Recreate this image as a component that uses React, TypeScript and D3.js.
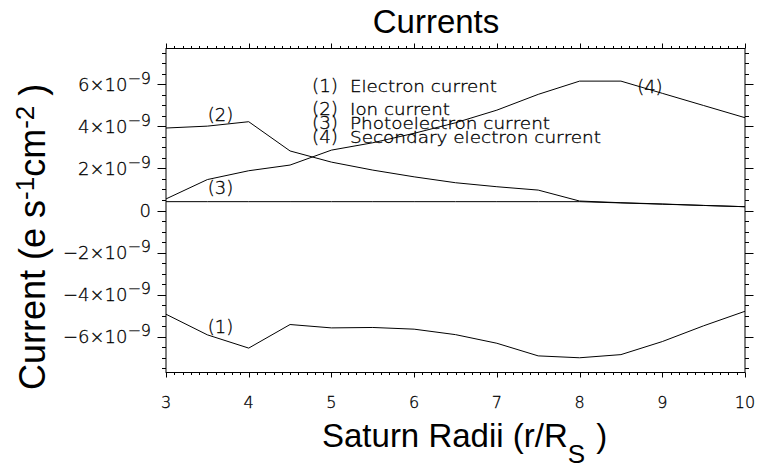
import React from "react";
import * as d3 from "d3";

// distance from Saturn (R_S) and currents in units of 1e-9 e s^-1 cm^-2
const radii = [3, 3.5, 4, 4.5, 5, 5.5, 6, 6.5, 7, 7.5, 8, 8.5, 9, 9.5, 10];
const electron = [-4.93, -5.91, -6.54, -5.42, -5.58, -5.56, -5.64, -5.9, -6.31, -6.91, -7.0, -6.85, -6.23, -5.48, -4.79];
const ion = [3.92, 4.01, 4.22, 2.83, 2.3, 1.92, 1.6, 1.32, 1.13, 0.97, 0.45, 0.37, 0.31, 0.24, 0.18];
const photo = [0.42, 0.42, 0.42, 0.42, 0.42, 0.42, 0.42, 0.42, 0.42, 0.42, 0.42, 0.36, 0.3, 0.24, 0.18];
const secondary = [0.55, 1.47, 1.89, 2.16, 2.87, 3.22, 3.67, 4.17, 4.77, 5.52, 6.15, 6.15, 5.57, 4.99, 4.41];

const legendNames = ["Electron current", "Ion current", "Photoelectron current", "Secondary electron current"];
const xTicks = [3, 4, 5, 6, 7, 8, 9, 10];
const yTicks = [-6, -4, -2, 0, 2, 4, 6];
const UNIT = 1e-9;

const W = 757;
const H = 472;
const hershey = "'DejaVu Sans', sans-serif";
const arial = "'Liberation Sans', Arial, sans-serif";

const x = d3.scaleLinear().domain([3, 10]).range([166, 745]);
const y = d3.scaleLinear().domain([-7.7 * UNIT, 7.7 * UNIT]).range([372.5, 48.5]);

const line = d3
  .line<number>()
  .x((_, i) => x(radii[i]))
  .y((d) => y(d * UNIT));

// where the "(n)" tags sit next to their curves (data coords)
const tags = [
  { t: "(1)", r: 3.66, v: -5.82 },
  { t: "(2)", r: 3.66, v: 4.25 },
  { t: "(3)", r: 3.66, v: 0.78 },
  { t: "(4)", r: 8.85, v: 5.58 },
];
const legendY = [91.7, 115, 129.3, 143.3];
const legendLen = [147, 100, 200, 251];

const minorX = d3.range(30, 101).map((i) => i / 10);
const minorY = d3.range(-15, 16).map((i) => i * 0.5);

// thin stroked look of the plotting package's vector font
const thin = { fontFamily: hershey, fontWeight: 200, stroke: "#000", strokeWidth: 0.3 };

const App = () => {
  const [x0, x1] = x.range();
  const [y0, y1] = [y(-7.7 * UNIT), y(7.7 * UNIT)];
  return (
    <svg
      width={W}
      height={H}
      style={{ position: "absolute", left: 0, top: 0, background: "#fff" }}
    >
      <rect x={0} y={0} width={W} height={H} fill="#fff" />
      {/* frame */}
      <rect x={x0} y={y1} width={x1 - x0} height={y0 - y1} fill="none" stroke="#000" strokeWidth={1} />

      {/* x ticks, top and bottom, outward */}
      {minorX.map((v) => {
        const major = Math.abs(v - Math.round(v)) < 1e-6;
        const len = major ? 5 : 2.5;
        const px = Math.round(x(v)) + 0.5;
        return (
          <g key={"xt" + v} stroke="#000" strokeWidth={1}>
            <line x1={px} x2={px} y1={y0} y2={y0 + len} />
            <line x1={px} x2={px} y1={y1} y2={y1 - len} />
          </g>
        );
      })}
      {/* y ticks, left and right, outward */}
      {minorY.map((v) => {
        const major = v % 2 === 0;
        const len = major ? 8.5 : 4;
        const py = Math.round(y(v * UNIT)) + 0.5;
        return (
          <g key={"yt" + v} stroke="#000" strokeWidth={1}>
            <line x1={x0} x2={x0 - len} y1={py} y2={py} />
            <line x1={x1} x2={x1 + len} y1={py} y2={py} />
          </g>
        );
      })}

      {/* tick labels */}
      {xTicks.map((v) => (
        <text key={"xl" + v} x={x(v)} y={408} textAnchor="middle" {...thin} fontSize={16}>
          {v}
        </text>
      ))}
      {yTicks.map((v) => (
        <text key={"yl" + v} x={151} y={y(v * UNIT) + 6.5} textAnchor="end" {...thin} fontSize={18}>
          {v === 0 ? (
            "0"
          ) : (
            <>
              <tspan>{(v < 0 ? "\u2212" : "") + Math.abs(v) + "\u00d710"}</tspan>
              <tspan dy={-7} fontSize={16}>{"\u22129"}</tspan>
            </>
          )}
        </text>
      ))}

      {/* curves */}
      {[electron, ion, photo, secondary].map((s, i) => (
        <path key={"s" + i} d={line(s) ?? ""} fill="none" stroke="#000" strokeWidth={1} />
      ))}

      {/* curve tags */}
      {tags.map((d) => (
        <text key={d.t} x={x(d.r)} y={y(d.v * UNIT)} textAnchor="middle" {...thin} fontSize={18}>
          {d.t}
        </text>
      ))}

      {/* legend */}
      {legendNames.map((n, i) => (
        <g key={n}>
          <text x={312} y={legendY[i]} {...thin} fontSize={18} textLength={26} lengthAdjust="spacingAndGlyphs">
            {`(${i + 1})`}
          </text>
          <text x={350} y={legendY[i]} {...thin} fontSize={15} textLength={legendLen[i]} lengthAdjust="spacingAndGlyphs">
            {n}
          </text>
        </g>
      ))}

      {/* titles */}
      <text x={436} y={33} textAnchor="middle" fontFamily={arial} fontSize={33}>
        Currents
      </text>
      <text x={322} y={447} fontFamily={arial} fontSize={33}>
        <tspan>Saturn Radii (r/R</tspan>
        <tspan dy={16} fontSize={26}>S</tspan>
        <tspan dy={-16} dx={2}> )</tspan>
      </text>
      <text transform="translate(45,390) rotate(-90)" fontFamily={arial} fontSize={36}>
        <tspan>Current (e s</tspan>
        <tspan dy={-11} fontSize={26}>-1</tspan>
        <tspan dy={11}>cm</tspan>
        <tspan dy={-11} fontSize={26}>-2</tspan>
        <tspan dy={11}> )</tspan>
      </text>
    </svg>
  );
};

export default App;
